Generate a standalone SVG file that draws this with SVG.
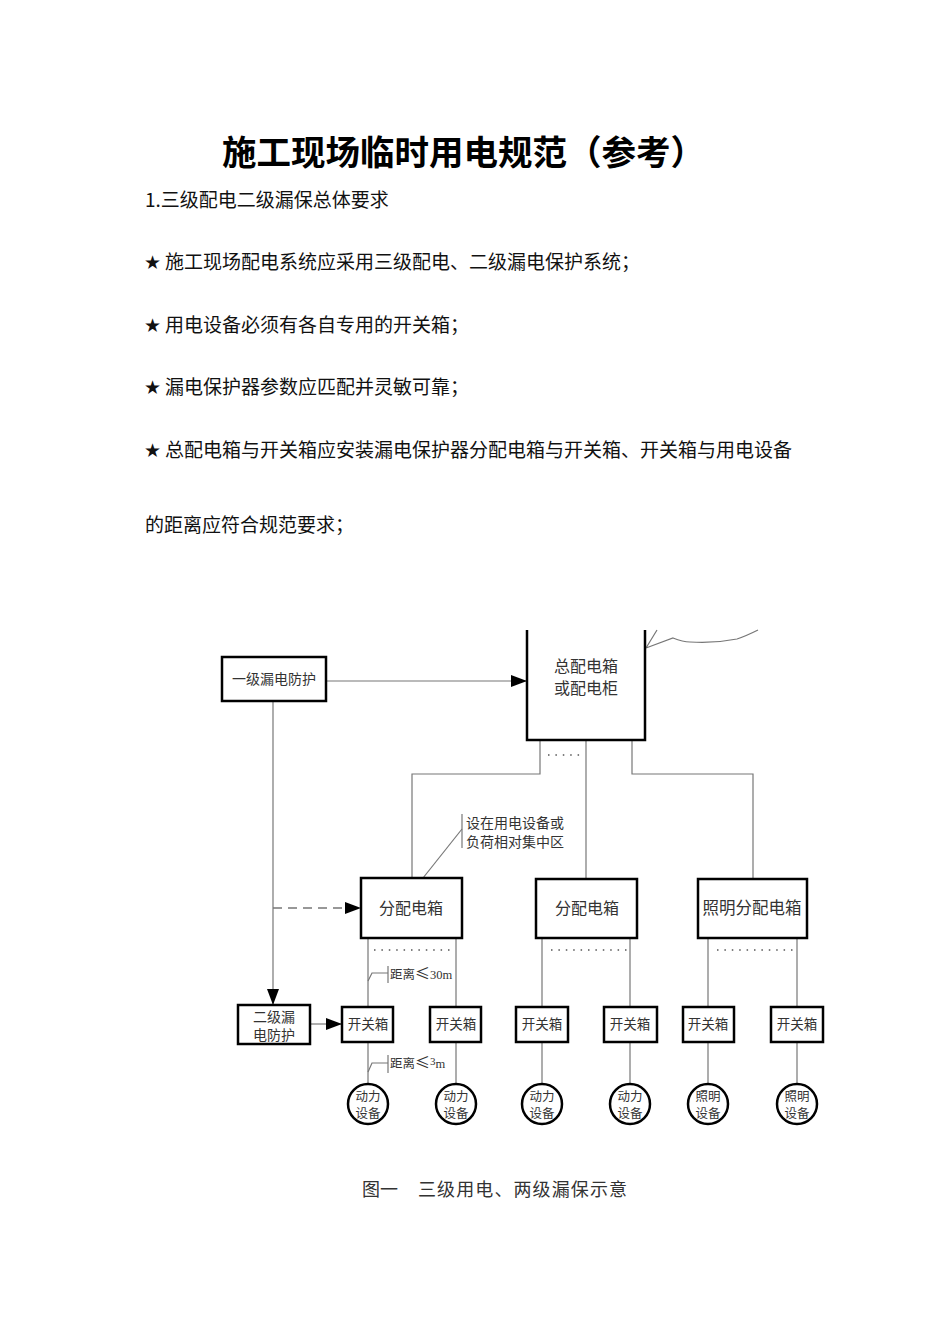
<svg xmlns="http://www.w3.org/2000/svg" width="950" height="1344" viewBox="0 0 950 1344">
<style>
.title{font-family:"Noto Sans CJK SC","Liberation Sans",sans-serif;font-size:34.5px;font-weight:bold;fill:#000}
.body{font-family:"Noto Sans CJK SC","Liberation Sans",sans-serif;font-size:19px;fill:#111}
.star{font-family:"DejaVu Sans",sans-serif;font-size:19px;fill:#111}
.box{fill:#fff;stroke:#000;stroke-width:2.5}
.lbl{font-family:"Noto Sans CJK SC","Liberation Sans",sans-serif;fill:#333;text-anchor:middle}
.ser{font-family:"Liberation Serif","Noto Sans CJK SC",serif;fill:#333}
.le{font-family:"Noto Sans CJK SC",sans-serif;font-size:15px}
.wire{fill:none;stroke:#777;stroke-width:1.2}
.dots{fill:none;stroke:#555;stroke-width:1.5;stroke-dasharray:1.5 5.9}
.eq{fill:#fff;stroke:#000;stroke-width:2.5}
</style>
<defs>
<marker id="ah" viewBox="0 0 16 12" refX="16" refY="6" markerWidth="16" markerHeight="12" markerUnits="userSpaceOnUse" orient="auto">
<path d="M0,0 L16,6 L0,12 z" fill="#000"/>
</marker>
</defs>
<rect width="950" height="1344" fill="#fff"/>

<g id="text-block">
<text class="title" x="222" y="165">施工现场临时用电规范（参考）</text>
<text class="body" x="145" y="207">1.三级配电二级漏保总体要求</text>
<text class="star" x="144" y="269">★</text>
<text class="body" x="165" y="269">施工现场配电系统应采用三级配电、二级漏电保护系统；</text>
<text class="star" x="144" y="332">★</text>
<text class="body" x="165" y="332">用电设备必须有各自专用的开关箱；</text>
<text class="star" x="144" y="394">★</text>
<text class="body" x="165" y="394">漏电保护器参数应匹配并灵敏可靠；</text>
<text class="star" x="144" y="457">★</text>
<text class="body" x="165" y="457">总配电箱与开关箱应安装漏电保护器分配电箱与开关箱、开关箱与用电设备</text>
<text class="body" x="145" y="532">的距离应符合规范要求；</text>
</g>

<g id="connectors">
<path class="wire" d="M646,648 L657,630 M646,648 L673,638 C678,640 683,642 690,642 C705,643 722,642 737,639 C746,636 752,633 758,630"/>
<line x1="326" y1="681" x2="527" y2="681" stroke="#777" stroke-width="1.2" marker-end="url(#ah)"/>
<line x1="273" y1="701" x2="273" y2="1005" stroke="#777" stroke-width="1.2" marker-end="url(#ah)"/>
<line x1="273" y1="908" x2="361" y2="908" stroke="#777" stroke-width="1.5" stroke-dasharray="9 6" marker-end="url(#ah)"/>
<line x1="310" y1="1024" x2="342" y2="1024" stroke="#777" stroke-width="1.2" marker-end="url(#ah)"/>
<path class="wire" d="M540,741 V774 H412 V878"/>
<path class="wire" d="M586,741 V879"/>
<path class="wire" d="M632,741 V774 H753 V879"/>
<line class="dots" x1="548" y1="755" x2="580" y2="755"/>
<line class="wire" x1="462" y1="814" x2="462" y2="848"/>
<line class="wire" x1="462" y1="829" x2="423" y2="878"/>
<path class="wire" d="M368,938 V1007 M456,938 V1007 M542,938 V1007 M630,938 V1007 M708,938 V1007 M797,938 V1007"/>
<line class="dots" x1="374" y1="950" x2="452" y2="950"/>
<line class="dots" x1="551" y1="950" x2="629" y2="950"/>
<line class="dots" x1="717" y1="950" x2="795" y2="950"/>
<path class="wire" d="M368,1042 V1084 M456,1042 V1084 M542,1042 V1084 M630,1042 V1084 M708,1042 V1084 M797,1042 V1084"/>
<path class="wire" d="M368,981 L372,973 H388 M388,966 V983"/>
<path class="wire" d="M368,1072 L372,1063 H388 M388,1055 V1073"/>
</g>

<g id="label-dist30">
<text class="ser" x="390" y="979" font-size="12.5">距离<tspan class="le">≤</tspan>30m</text>
</g>
<g id="label-dist3">
<text class="ser" x="390" y="1068" font-size="12.5">距离<tspan class="le">≤</tspan><tspan dy="-3" font-size="11">3</tspan><tspan dy="3">m</tspan></text>
</g>
<g id="label-note">
<text class="ser" x="466" y="828" font-size="14">设在用电设备或</text>
<text class="ser" x="466" y="847" font-size="14">负荷相对集中区</text>
</g>

<g id="node-level1">
<rect class="box" x="222" y="657" width="104" height="44"/>
<text class="lbl" x="274" y="684" font-size="14">一级漏电防护</text>
</g>

<g id="node-main">
<path d="M527,630 V740 H645 V630" fill="#fff" stroke="#000" stroke-width="2.5"/>
<text class="lbl" x="586" y="672" font-size="16">总配电箱</text>
<text class="lbl" x="586" y="694" font-size="16">或配电柜</text>
</g>

<g id="node-dist1">
<rect class="box" x="361" y="878" width="101" height="60"/>
<text class="lbl" x="411" y="914" font-size="16">分配电箱</text>
</g>
<g id="node-dist2">
<rect class="box" x="536" y="879" width="101" height="59"/>
<text class="lbl" x="587" y="914" font-size="16">分配电箱</text>
</g>
<g id="node-dist3">
<rect class="box" x="698" y="879" width="109" height="59"/>
<text class="lbl" x="752" y="914" font-size="16.5">照明分配电箱</text>
</g>

<g id="node-level2">
<rect class="box" x="238" y="1005" width="72" height="39"/>
<text class="lbl" x="274" y="1022" font-size="14">二级漏</text>
<text class="lbl" x="274" y="1040" font-size="14">电防护</text>
</g>

<g id="node-sw1"><rect class="box" x="342" y="1007" width="51" height="35"/><text class="lbl" x="368" y="1029" font-size="13.5">开关箱</text></g>
<g id="node-sw2"><rect class="box" x="430" y="1007" width="51" height="35"/><text class="lbl" x="456" y="1029" font-size="13.5">开关箱</text></g>
<g id="node-sw3"><rect class="box" x="516" y="1007" width="52" height="35"/><text class="lbl" x="542" y="1029" font-size="13.5">开关箱</text></g>
<g id="node-sw4"><rect class="box" x="604" y="1007" width="53" height="35"/><text class="lbl" x="630" y="1029" font-size="13.5">开关箱</text></g>
<g id="node-sw5"><rect class="box" x="683" y="1007" width="51" height="35"/><text class="lbl" x="708" y="1029" font-size="13.5">开关箱</text></g>
<g id="node-sw6"><rect class="box" x="771" y="1007" width="52" height="35"/><text class="lbl" x="797" y="1029" font-size="13.5">开关箱</text></g>

<g id="node-eq1"><circle class="eq" cx="368" cy="1104" r="20"/><text class="lbl" x="368" y="1101" font-size="12.5">动力</text><text class="lbl" x="368" y="1118" font-size="12.5">设备</text></g>
<g id="node-eq2"><circle class="eq" cx="456" cy="1104" r="20"/><text class="lbl" x="456" y="1101" font-size="12.5">动力</text><text class="lbl" x="456" y="1118" font-size="12.5">设备</text></g>
<g id="node-eq3"><circle class="eq" cx="542" cy="1104" r="20"/><text class="lbl" x="542" y="1101" font-size="12.5">动力</text><text class="lbl" x="542" y="1118" font-size="12.5">设备</text></g>
<g id="node-eq4"><circle class="eq" cx="630" cy="1104" r="20"/><text class="lbl" x="630" y="1101" font-size="12.5">动力</text><text class="lbl" x="630" y="1118" font-size="12.5">设备</text></g>
<g id="node-eq5"><circle class="eq" cx="708" cy="1104" r="20"/><text class="lbl" x="708" y="1101" font-size="12.5">照明</text><text class="lbl" x="708" y="1118" font-size="12.5">设备</text></g>
<g id="node-eq6"><circle class="eq" cx="797" cy="1104" r="20"/><text class="lbl" x="797" y="1101" font-size="12.5">照明</text><text class="lbl" x="797" y="1118" font-size="12.5">设备</text></g>

<g id="caption">
<text class="ser" y="1196" font-size="18"><tspan x="362">图一</tspan><tspan x="418" textLength="209" lengthAdjust="spacing">三级用电、两级漏保示意</tspan></text>
</g>
</svg>
